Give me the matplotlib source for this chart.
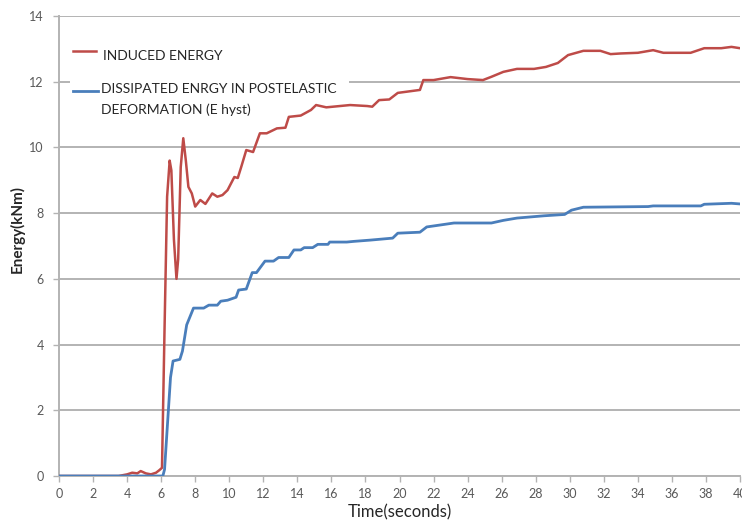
import matplotlib
matplotlib.use("Agg")
import matplotlib.pyplot as plt
from matplotlib.lines import Line2D
from matplotlib.patches import Rectangle

plt.rcParams['font.family'] = ['Lato', 'DejaVu Sans']

# induced energy record (time in s, energy in kNm)
t_induced = [0, 3.5, 4.0, 4.3, 4.6, 4.8, 5.1, 5.4, 5.7, 5.9, 6.05, 6.2, 6.35, 6.5,
             6.6, 6.75, 6.9, 7.0, 7.15, 7.3, 7.45, 7.6, 7.8, 8.0, 8.3, 8.6, 9.0,
             9.3, 9.6, 9.9, 10.3, 10.5, 10.7, 11.0, 11.4, 11.8, 12.2, 12.8, 13.3,
             13.5, 14.2, 14.8, 15.1, 15.7, 16.3, 17.1, 18.1, 18.4, 18.8, 19.4,
             19.9, 21.2, 21.4, 22.0, 23.0, 24.0, 24.9, 25.4, 26.1, 26.9, 27.9,
             28.6, 29.3, 29.9, 30.8, 31.8, 32.4, 33.0, 34.0, 34.9, 35.5, 36.3,
             37.1, 37.9, 38.9, 39.5, 40.0]
e_induced = [0, 0, 0.05, 0.1, 0.08, 0.15, 0.08, 0.05, 0.1, 0.18, 0.25, 4.5, 8.5, 9.6,
             9.3, 7.2, 6.0, 6.6, 9.4, 10.28, 9.6, 8.8, 8.6, 8.2, 8.4, 8.28, 8.6,
             8.5, 8.55, 8.7, 9.1, 9.07, 9.4, 9.92, 9.86, 10.43, 10.43, 10.58, 10.6,
             10.93, 10.97, 11.14, 11.29, 11.22, 11.25, 11.29, 11.26, 11.24, 11.44,
             11.46, 11.66, 11.75, 12.05, 12.05, 12.14, 12.08, 12.05, 12.15, 12.3,
             12.39, 12.39, 12.45, 12.57, 12.81, 12.94, 12.94, 12.84, 12.86, 12.88,
             12.96, 12.88, 12.88, 12.88, 13.02, 13.02, 13.06, 13.02]

# hysteretic (dissipated) energy record
t_hyst = [0, 6.1, 6.2, 6.4, 6.55, 6.7, 7.1, 7.25, 7.5, 7.9, 8.5, 8.8, 9.3, 9.5,
          9.9, 10.4, 10.55, 11.0, 11.35, 11.6, 12.1, 12.6, 12.9, 13.5, 13.8,
          14.2, 14.4, 14.9, 15.2, 15.8, 15.9, 16.9, 17.3, 18.3, 19.6, 19.9, 21.2,
          21.6, 23.2, 25.4, 26.1, 26.9, 28.5, 29.7, 30.1, 30.8, 34.6, 34.9, 37.7,
          37.9, 39.5, 40.0]
e_hyst = [0, 0, 0.2, 1.8, 3.0, 3.5, 3.55, 3.8, 4.6, 5.11, 5.11, 5.2, 5.2, 5.32,
          5.35, 5.44, 5.66, 5.69, 6.19, 6.19, 6.54, 6.54, 6.65, 6.65, 6.88, 6.88,
          6.95, 6.95, 7.05, 7.05, 7.12, 7.12, 7.14, 7.18, 7.24, 7.39, 7.42, 7.58,
          7.7, 7.7, 7.78, 7.85, 7.92, 7.96, 8.09, 8.18, 8.2, 8.22, 8.22, 8.27,
          8.3, 8.28]

x_ticks = list(range(0, 41, 2))
y_ticks = list(range(0, 15, 2))
label_induced = 'INDUCED ENERGY'
label_hyst = 'DISSIPATED ENRGY IN POSTELASTIC\nDEFORMATION (E hyst)'

red = '#BE4B48'
blue = '#4A7EBB'
grid_col = '#b3b3b3'
tick_col = '#595959'
text_col = '#262626'

fig = plt.figure(figsize=(7.42, 5.25), dpi=100)
ax = fig.add_axes([59 / 742, 49 / 525, 681 / 742, 460 / 525])

ax.plot(t_induced, e_induced, color=red, lw=1.8, solid_joinstyle='round', zorder=3)
ax.plot(t_hyst, e_hyst, color=blue, lw=2.0, solid_joinstyle='round', zorder=3)

ax.set_xlim(0, 40)
ax.set_ylim(0, 14)
ax.set_xticks(x_ticks)
ax.set_yticks(y_ticks)
ax.yaxis.grid(True, color=grid_col, lw=1.4)
ax.set_axisbelow(True)

for side in ['top', 'right']:
    ax.spines[side].set_visible(False)
for side in ['left', 'bottom']:
    ax.spines[side].set_color(grid_col)
    ax.spines[side].set_linewidth(1.4)

ax.tick_params(axis='both', colors=grid_col, labelcolor=tick_col,
               labelsize=9, length=4, width=1)
ax.tick_params(axis='x', pad=5)
ax.tick_params(axis='y', pad=7)

ax.set_xlabel('Time(seconds)', fontsize=12, color=text_col, labelpad=3)
ax.set_ylabel('Energy(kNm)', fontsize=11, fontweight='bold', color=text_col)
ax.yaxis.set_label_coords((25 - 59) / 681, 0.537)

# legend box: white panel over the grid, handles and labels in axes fraction
tr = ax.transAxes
ax.add_patch(Rectangle((0.016, 0.775), 0.41, 0.18, transform=tr,
                       facecolor='white', edgecolor='none', zorder=1))
ax.add_line(Line2D([0.021, 0.055], [0.924, 0.924], transform=tr,
                   color=red, lw=1.8, zorder=4))
ax.add_line(Line2D([0.021, 0.057], [0.838, 0.838], transform=tr,
                   color=blue, lw=2.0, zorder=4))
ax.text(0.064, 0.913, label_induced, transform=tr, fontsize=10,
        color=text_col, va='center', ha='left', zorder=4)
ax.text(0.061, 0.818, label_hyst, transform=tr, fontsize=10,
        color=text_col, va='center', ha='left', linespacing=1.8, zorder=4)

fig.savefig('out.png', dpi=100)
